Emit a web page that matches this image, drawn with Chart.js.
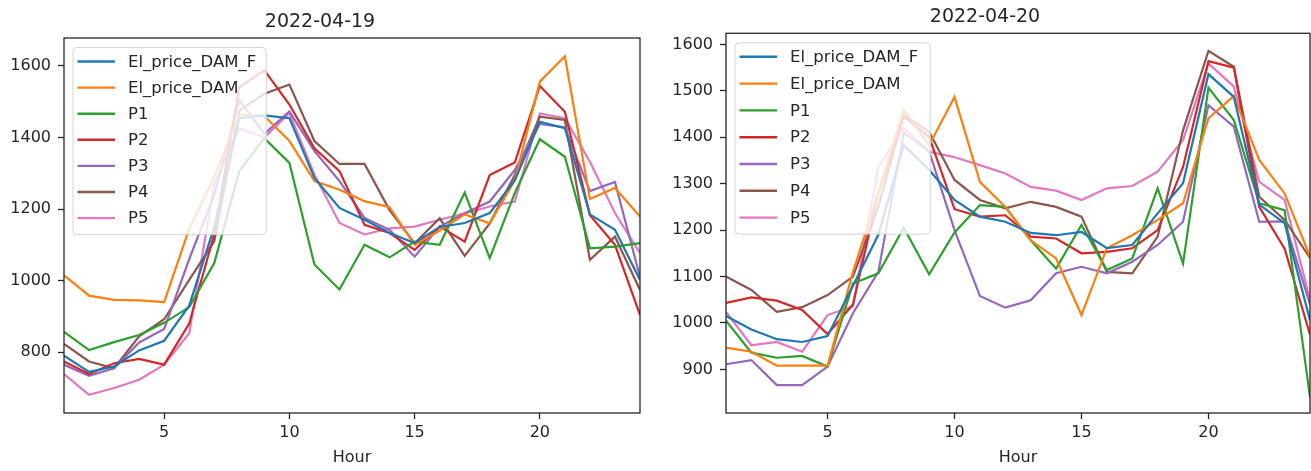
<!DOCTYPE html>
<html>
<head>
<meta charset="utf-8">
<script src="https://cdn.jsdelivr.net/npm/chart.js@4/dist/chart.umd.min.js"></script>
<style>
  html, body { margin: 0; padding: 0; background: #fff; }
  body { width: 1311px; height: 471px; position: relative; overflow: hidden; }
  canvas { position: absolute; top: 0; }
  #day1 { left: 0; }
  #day2 { left: 660px; }
</style>
</head>
<body>
<canvas id="day1" width="660" height="471"></canvas>
<canvas id="day2" width="651" height="471"></canvas>
<script>
const hours = [1, 2, 3, 4, 5, 6, 7, 8, 9, 10, 11, 12, 13, 14, 15, 16, 17, 18, 19, 20, 21, 22, 23, 24];
const seriesNames = ['El_price_DAM_F', 'El_price_DAM', 'P1', 'P2', 'P3', 'P4', 'P5'];
const xTicks = [5, 10, 15, 20];

// 2022-04-19
const damF19 = [790, 745, 760, 805, 832, 930, 1150, 1454, 1462, 1454, 1287, 1203, 1170, 1133, 1105, 1150, 1161, 1189, 1280, 1444, 1426, 1185, 1142, 1002];
const dam19  = [1015, 958, 946, 945, 940, 1145, 1290, 1463, 1460, 1390, 1278, 1254, 1222, 1205, 1100, 1140, 1185, 1160, 1280, 1556, 1627, 1228, 1259, 1179];
const p1_19  = [857, 806, 828, 848, 882, 926, 1049, 1306, 1398, 1329, 1045, 975, 1100, 1065, 1109, 1100, 1246, 1063, 1245, 1395, 1346, 1090, 1095, 1105];
const p2_19  = [774, 739, 769, 781, 765, 880, 1130, 1540, 1588, 1492, 1370, 1306, 1156, 1133, 1086, 1151, 1109, 1295, 1330, 1544, 1472, 1183, 1100, 904];
const p3_19  = [765, 734, 755, 827, 865, 1060, 1240, 1505, 1410, 1473, 1362, 1278, 1175, 1142, 1067, 1151, 1188, 1221, 1309, 1438, 1428, 1250, 1276, 1010];
const p4_19  = [823, 774, 755, 844, 892, 1002, 1110, 1475, 1522, 1548, 1390, 1326, 1326, 1197, 1104, 1174, 1069, 1160, 1295, 1458, 1449, 1058, 1123, 974];
const p5_19  = [739, 681, 700, 723, 765, 853, 1270, 1425, 1400, 1468, 1296, 1161, 1129, 1146, 1151, 1170, 1188, 1207, 1221, 1467, 1454, 1332, 1189, 1077];
const yTicks19 = [800, 1000, 1200, 1400, 1600];

// 2022-04-20
const damF20 = [1015, 986, 965, 959, 972, 1080, 1190, 1383, 1330, 1265, 1229, 1218, 1194, 1189, 1196, 1161, 1168, 1236, 1301, 1536, 1487, 1255, 1215, 1006];
const dam20  = [947, 938, 908, 908, 908, 1110, 1280, 1460, 1383, 1487, 1304, 1250, 1178, 1139, 1017, 1161, 1189, 1222, 1258, 1441, 1489, 1351, 1279, 1143];
const p1_20  = [1005, 936, 925, 929, 906, 1085, 1107, 1205, 1105, 1195, 1254, 1250, 1178, 1117, 1211, 1114, 1139, 1290, 1128, 1507, 1437, 1258, 1243, 840];
const p2_20  = [1043, 1055, 1048, 1028, 976, 1040, 1280, 1445, 1401, 1245, 1229, 1232, 1186, 1182, 1150, 1153, 1161, 1200, 1336, 1564, 1550, 1250, 1160, 975];
const p3_20  = [911, 920, 866, 866, 906, 1021, 1110, 1410, 1370, 1200, 1058, 1033, 1049, 1107, 1121, 1107, 1132, 1168, 1218, 1469, 1423, 1218, 1219, 1040];
const p4_20  = [1100, 1071, 1024, 1034, 1060, 1100, 1250, 1448, 1412, 1308, 1265, 1247, 1261, 1250, 1229, 1110, 1107, 1186, 1415, 1586, 1552, 1272, 1222, 1140];
const p5_20  = [1024, 952, 959, 938, 1017, 1036, 1336, 1420, 1369, 1357, 1340, 1322, 1293, 1285, 1265, 1290, 1295, 1326, 1394, 1559, 1509, 1304, 1265, 1050];
const yTicks20 = [900, 1000, 1100, 1200, 1300, 1400, 1500, 1600];

const PALETTE = ['#1f77b4', '#ff7f0e', '#2ca02c', '#d62728', '#9467bd', '#8c564b', '#e377c2'];
const FONT = '"DejaVu Sans", sans-serif';
const INK = '#262626';

// black box round the plot area, like matplotlib spines
const axesFrame = {
  id: 'axesFrame',
  afterDatasetsDraw(chart) {
    const { ctx, chartArea: a } = chart;
    ctx.save();
    ctx.strokeStyle = INK;
    ctx.lineWidth = 1.3;
    ctx.strokeRect(a.left, a.top, a.right - a.left, a.bottom - a.top);
    ctx.restore();
  },
};

// semi-transparent legend box in the upper left corner of the plot
const legendBox = {
  id: 'legendBox',
  afterDatasetsDraw(chart, args, opts) {
    const { ctx, chartArea: a } = chart;
    const sets = chart.data.datasets;
    ctx.save();
    ctx.font = '16.5px ' + FONT;
    const textW = Math.max(...sets.map(d => ctx.measureText(d.label).width));
    const x0 = a.left + 9, y0 = a.top + 9.5;
    const w = 54 + textW + opts.padRight;
    const h = 14 + opts.rowH * (sets.length - 1) + 16.5;
    ctx.beginPath();
    ctx.roundRect(x0, y0, w, h, 4);
    ctx.fillStyle = 'rgba(255,255,255,0.8)';
    ctx.fill();
    ctx.strokeStyle = '#d4d4d4';
    ctx.lineWidth = 1;
    ctx.stroke();
    ctx.textBaseline = 'middle';
    ctx.textAlign = 'left';
    sets.forEach((d, i) => {
      const y = y0 + 14 + i * opts.rowH;
      ctx.strokeStyle = d.borderColor;
      ctx.lineWidth = 2.4;
      ctx.beginPath();
      ctx.moveTo(x0 + 4.5, y);
      ctx.lineTo(x0 + 42, y);
      ctx.stroke();
      ctx.fillStyle = INK;
      ctx.fillText(d.label, x0 + 55, y + 1);
    });
    ctx.restore();
  },
};

function renderDay(canvasId, title, series, yMin, yMax, yTicks, geo) {
  const ctx = document.getElementById(canvasId).getContext('2d');
  return new Chart(ctx, {
    type: 'line',
    data: {
      datasets: series.map((vals, i) => ({
        label: seriesNames[i],
        data: hours.map((h, k) => ({ x: h, y: vals[k] })),
        borderColor: PALETTE[i],
        backgroundColor: PALETTE[i],
        borderWidth: 2.2,
        pointRadius: 0,
        tension: 0,
        fill: false,
      })),
    },
    plugins: [axesFrame, legendBox],
    options: {
      responsive: false,
      animation: false,
      events: [],
      layout: { padding: { left: 0, right: geo.padRight, top: 0, bottom: 0 } },
      plugins: {
        legend: { display: false },
        tooltip: { enabled: false },
        title: {
          display: true,
          text: title,
          color: INK,
          font: { family: FONT, size: 19, weight: 'normal' },
          padding: geo.titlePad,
        },
        legendBox: { rowH: geo.rowH, padRight: geo.legendPad },
      },
      scales: {
        x: {
          type: 'linear',
          min: 1,
          max: 24,
          afterFit: s => { s.height = 58; },
          afterBuildTicks: s => { s.ticks = xTicks.map(v => ({ value: v })); },
          grid: { drawOnChartArea: false, drawTicks: true, tickLength: 6, tickWidth: 1.3, tickColor: INK },
          border: { display: false },
          ticks: { color: INK, font: { family: FONT, size: 16 }, padding: 4, maxRotation: 0, callback: v => String(v) },
          title: {
            display: true,
            text: 'Hour',
            color: INK,
            font: { family: FONT, size: 16 },
            padding: { top: 0, bottom: 3.5 },
          },
        },
        y: {
          type: 'linear',
          min: yMin,
          max: yMax,
          afterFit: s => { s.width = geo.yWidth; },
          afterBuildTicks: s => { s.ticks = yTicks.map(v => ({ value: v })); },
          grid: { drawOnChartArea: false, drawTicks: true, tickLength: 6, tickWidth: 1.3, tickColor: INK },
          border: { display: false },
          ticks: { color: INK, font: { family: FONT, size: 16 }, padding: 7, callback: v => String(v) },
        },
      },
    },
  });
}

renderDay('day1', '2022-04-19', [damF19, dam19, p1_19, p2_19, p3_19, p4_19, p5_19], 630, 1678, yTicks19, {
  padRight: 20, yWidth: 64, rowH: 26.1, legendPad: 11,
  titlePad: { top: 11, bottom: 4.2 },
});
renderDay('day2', '2022-04-20', [damF20, dam20, p1_20, p2_20, p3_20, p4_20, p5_20], 806, 1624, yTicks20, {
  padRight: 1, yWidth: 66, rowH: 26.8, legendPad: 13,
  titlePad: { top: 5.3, bottom: 5.2 },
});
</script>
</body>
</html>
